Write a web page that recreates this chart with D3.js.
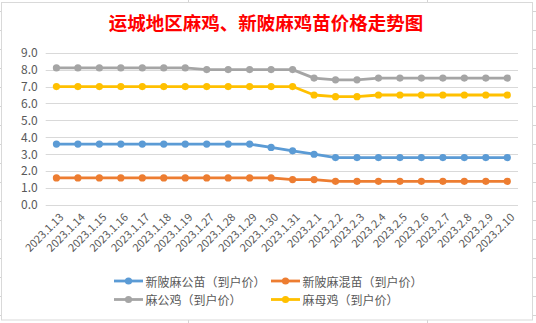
<!DOCTYPE html>
<html><head><meta charset="utf-8">
<script src="https://cdn.jsdelivr.net/npm/d3@7"></script>
<style>html,body{margin:0;padding:0;background:#fff;}svg{display:block;}</style>
</head><body>
<script>
const categories = ["2023.1.13","2023.1.14","2023.1.15","2023.1.16","2023.1.17","2023.1.18","2023.1.19","2023.1.27","2023.1.28","2023.1.29","2023.1.30","2023.1.31","2023.2.1","2023.2.2","2023.2.3","2023.2.4","2023.2.5","2023.2.6","2023.2.7","2023.2.8","2023.2.9","2023.2.10"];
const seriesNames = ["新陂麻公苗（到户价）","新陂麻混苗（到户价）","麻公鸡（到户价）","麻母鸡（到户价）"];
const maleChickValues = [3.6,3.6,3.6,3.6,3.6,3.6,3.6,3.6,3.6,3.6,3.4,3.2,3.0,2.8,2.8,2.8,2.8,2.8,2.8,2.8,2.8,2.8];
const mixedChickValues = [1.6,1.6,1.6,1.6,1.6,1.6,1.6,1.6,1.6,1.6,1.6,1.5,1.5,1.4,1.4,1.4,1.4,1.4,1.4,1.4,1.4,1.4];
const roosterValues = [8.1,8.1,8.1,8.1,8.1,8.1,8.1,8.0,8.0,8.0,8.0,8.0,7.5,7.4,7.4,7.5,7.5,7.5,7.5,7.5,7.5,7.5];
const henValues = [7.0,7.0,7.0,7.0,7.0,7.0,7.0,7.0,7.0,7.0,7.0,7.0,6.5,6.4,6.4,6.5,6.5,6.5,6.5,6.5,6.5,6.5];
const yTicks = [0,1,2,3,4,5,6,7,8,9];
const title = "运城地区麻鸡、新陂麻鸡苗价格走势图";
const colors = ["#5B9BD5","#ED7D31","#A5A5A5","#FFC000"];

const series = [maleChickValues, mixedChickValues, roosterValues, henValues].map((v,i)=>({name:seriesNames[i], values:v, color:colors[i]}));

const W=536,H=323;
const svg = d3.select("body").append("svg").attr("width",W).attr("height",H);
const font = "'Noto Sans CJK SC','Noto Sans',sans-serif";

// spreadsheet background lines
const bg = svg.append("g").attr("stroke","#d4d4d4").attr("stroke-width",1);
d3.range(11, H, 19).forEach(y=>{
  bg.append("line").attr("x1",0).attr("x2",2).attr("y1",y+0.5).attr("y2",y+0.5);
  bg.append("line").attr("x1",533).attr("x2",W).attr("y1",y+0.5).attr("y2",y+0.5);
});
[188,427].forEach(x=>{
  bg.append("line").attr("x1",x+0.5).attr("x2",x+0.5).attr("y1",0).attr("y2",2);
  bg.append("line").attr("x1",x+0.5).attr("x2",x+0.5).attr("y1",320).attr("y2",H);
});

// chart area
svg.append("rect").attr("x",1.5).attr("y",2.5).attr("width",531).attr("height",317.5)
  .attr("fill","#fff").attr("stroke","#d9d9d9").attr("stroke-width",1);

svg.append("text").attr("x",266).attr("y",22).attr("text-anchor","middle").attr("dominant-baseline","central")
  .attr("font-family",font).attr("font-weight","bold").attr("font-size",18.5).attr("fill","#ff0000").text(title);

const x = d3.scaleBand().domain(categories).range([45.7,518]);
const y = d3.scaleLinear().domain([0,9]).range([205,52.7]);

const grid = svg.append("g");
yTicks.forEach(t=>{
  grid.append("line").attr("x1",45.7).attr("x2",518).attr("y1",Math.round(y(t))+0.5).attr("y2",Math.round(y(t))+0.5)
    .attr("stroke","#d9d9d9").attr("stroke-width",1);
});

const yAxis = svg.append("g").attr("transform","translate(45.7,0)")
  .call(d3.axisLeft(y).tickValues(yTicks).tickFormat(d3.format(".1f")).tickSize(0).tickPadding(8));
yAxis.select(".domain").remove();
yAxis.selectAll("text").attr("font-family",font).attr("font-size",12).attr("fill","#595959");

const xAxis = svg.append("g").attr("transform","translate(0,205)")
  .call(d3.axisBottom(x).tickSize(0).tickPadding(0));
xAxis.select(".domain").remove();
xAxis.selectAll("text").attr("font-family",font).attr("font-size",11).attr("fill","#595959")
  .attr("text-anchor","end").attr("y",0).attr("dy",0)
  .attr("transform","translate(8,13) rotate(-45)");

const line = d3.line().x((d,i)=>x(categories[i])+x.bandwidth()/2).y(d=>y(d));
series.forEach(s=>{
  const g = svg.append("g");
  g.append("path").datum(s.values).attr("d",line).attr("fill","none").attr("stroke",s.color)
    .attr("stroke-width",2.8).attr("stroke-linejoin","round");
  g.selectAll("circle").data(s.values).join("circle")
    .attr("cx",(d,i)=>x(categories[i])+x.bandwidth()/2).attr("cy",d=>y(d)).attr("r",3.6).attr("fill",s.color);
});

// legend
const legPos = [[114,281],[271,281],[114,299.5],[271,299.5]];
series.forEach((s,i)=>{
  const [lx,ly] = legPos[i];
  const g = svg.append("g").attr("transform",`translate(${lx},${ly})`);
  g.append("line").attr("x1",0).attr("x2",29).attr("y1",0).attr("y2",0).attr("stroke",s.color).attr("stroke-width",2.8);
  g.append("circle").attr("cx",14.5).attr("cy",0).attr("r",3.6).attr("fill",s.color);
  g.append("text").attr("x",31.5).attr("y",0).attr("dominant-baseline","central")
    .attr("font-family",font).attr("font-size",12).attr("fill","#595959").text(s.name);
});
</script>
</body></html>
